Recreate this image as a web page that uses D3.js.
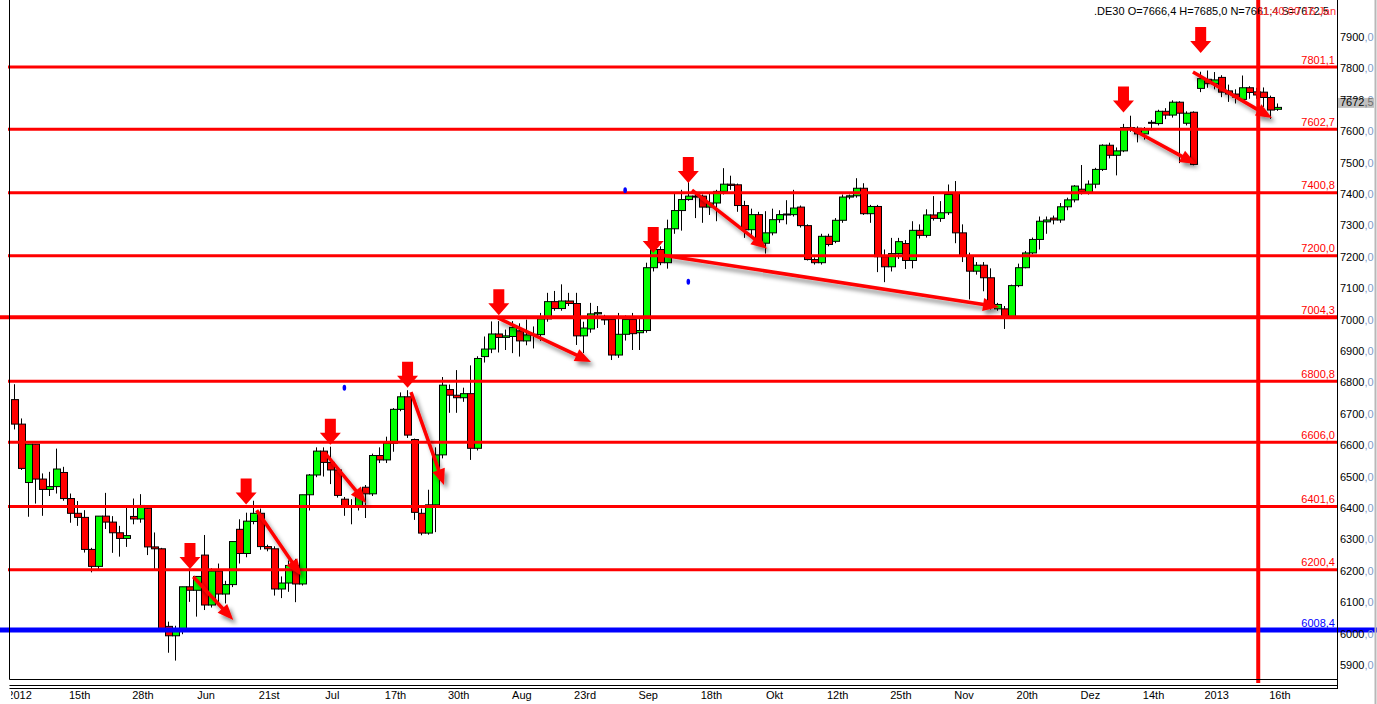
<!DOCTYPE html>
<html>
<head>
<meta charset="utf-8">
<script src="https://cdn.jsdelivr.net/npm/d3@7"></script>
<style>
  html, body { margin: 0; padding: 0; background: #fff; }
  svg { display: block; font-family: "Liberation Sans", Arial, sans-serif; }
</style>
</head>
<body>
<div id="chart"></div>
<script>
// .DE30 daily candles, May 2012 - 16 Jan 2013
const opens = [
  6742, 6664, 6478, 6600, 6489, 6456, 6465, 6510, 6427, 6380,
  6367, 6265, 6211, 6371, 6352, 6318, 6300, 6370, 6362, 6396,
  6273, 6267, 6020, 5990, 6013, 6146, 6135, 6247, 6088, 6196,
  6123, 6153, 6329, 6252, 6354, 6380, 6274, 6267, 6139, 6158,
  6214, 6155, 6439, 6502, 6578, 6542, 6518, 6425, 6402, 6405,
  6463, 6442, 6564, 6550, 6603, 6711, 6751, 6615, 6380, 6317,
  6407, 6566, 6774, 6756, 6748, 6761, 6587, 6879, 6903, 6951,
  6940, 6943, 6961, 6929, 6948, 6949, 6999, 7054, 7032, 7056,
  7048, 6945, 6967, 7015, 6999, 6997, 6884, 6950, 6997, 6955,
  6962, 7162, 7220, 7178, 7286, 7344, 7379, 7390, 7390, 7355,
  7368, 7405, 7428, 7426, 7360, 7283, 7331, 7240, 7273, 7315,
  7331, 7331, 7355, 7296, 7188, 7178, 7262, 7246, 7313, 7387,
  7391, 7415, 7334, 7357, 7197, 7165, 7207, 7239, 7185, 7281,
  7265, 7330, 7319, 7337, 7400, 7273, 7199, 7151, 7170, 7130,
  7031, 7031, 7007, 7105, 7162, 7209, 7252, 7308, 7320, 7314,
  7356, 7378, 7412, 7402, 7428, 7475, 7552, 7520, 7534, 7608,
  7606, 7588, 7625, 7621, 7660, 7648, 7689, 7622, 7657, 7733,
  7762, 7748, 7768, 7725, 7715, 7698, 7735, 7722, 7721, 7704, 7666.4
];
const highs = [
  6791, 6682, 6600, 6600, 6507, 6512, 6586, 6528, 6443, 6419,
  6390, 6270, 6371, 6445, 6371, 6340, 6406, 6427, 6441, 6405,
  6319, 6270, 6035, 6022, 6146, 6204, 6180, 6311, 6205, 6220,
  6165, 6290, 6361, 6382, 6420, 6395, 6280, 6275, 6179, 6230,
  6235, 6439, 6505, 6590, 6590, 6592, 6525, 6432, 6425, 6450,
  6470, 6570, 6590, 6624, 6715, 6765, 6772, 6618, 6395, 6455,
  6590, 6814, 6790, 6836, 6780, 6851, 6880, 6943, 6991, 6992,
  6965, 6992, 6985, 6997, 6975, 7018, 7082, 7088, 7109, 7082,
  7082, 6990, 7050, 7040, 7012, 7000, 7018, 7010, 7018, 7000,
  7178, 7230, 7230, 7315, 7400, 7410, 7437, 7400, 7395, 7400,
  7410, 7479, 7455, 7430, 7375, 7350, 7340, 7342, 7350, 7345,
  7377, 7410, 7360, 7300, 7195, 7270, 7270, 7320, 7395, 7395,
  7447, 7431, 7362, 7362, 7220, 7257, 7257, 7250, 7310, 7300,
  7348, 7390, 7374, 7427, 7438, 7300, 7210, 7180, 7180, 7160,
  7050, 7040, 7108, 7175, 7215, 7258, 7325, 7325, 7328, 7368,
  7385, 7425, 7489, 7440, 7480, 7555, 7560, 7545, 7620, 7646,
  7612, 7610, 7632, 7665, 7670, 7695, 7692, 7660, 7660, 7786,
  7790, 7785, 7775, 7745, 7730, 7774, 7740, 7735, 7736, 7710, 7685
];
const lows = [
  6647, 6518, 6369, 6411, 6372, 6435, 6443, 6420, 6350, 6340,
  6255, 6192, 6202, 6330, 6254, 6242, 6273, 6345, 6350, 6247,
  6202, 6005, 5936, 5911, 5995, 6098, 6051, 6072, 6080, 6093,
  6093, 6145, 6220, 6240, 6345, 6264, 6259, 6118, 6110, 6130,
  6097, 6150, 6389, 6495, 6497, 6473, 6430, 6372, 6345, 6389,
  6365, 6435, 6540, 6540, 6576, 6705, 6620, 6359, 6310, 6312,
  6320, 6555, 6700, 6700, 6735, 6550, 6580, 6860, 6890, 6892,
  6900, 6890, 6879, 6915, 6905, 6929, 6990, 7025, 7025, 7040,
  6916, 6890, 6955, 6970, 6980, 6868, 6875, 6930, 6900, 6900,
  6955, 7150, 7170, 7159, 7270, 7280, 7375, 7320, 7305, 7330,
  7310, 7395, 7410, 7340, 7257, 7262, 7231, 7207, 7265, 7305,
  7300, 7325, 7290, 7185, 7172, 7172, 7230, 7240, 7305, 7380,
  7385, 7330, 7305, 7148, 7116, 7150, 7190, 7158, 7160, 7255,
  7258, 7312, 7308, 7330, 7240, 7180, 7061, 7140, 7087, 7029,
  7025, 6967, 7000, 7100, 7160, 7205, 7220, 7270, 7300, 7305,
  7345, 7370, 7395, 7395, 7415, 7470, 7510, 7456, 7530, 7595,
  7561, 7570, 7600, 7615, 7635, 7640, 7495, 7615, 7488, 7721,
  7735, 7730, 7705, 7690, 7685, 7690, 7700, 7700, 7674, 7636, 7661.4
];
const closes = [
  6664, 6523, 6600, 6489, 6456, 6465, 6521, 6427, 6380, 6367,
  6265, 6211, 6371, 6352, 6318, 6300, 6309, 6362, 6405, 6273,
  6267, 6013, 5990, 6013, 6146, 6135, 6179, 6088, 6196, 6123,
  6153, 6290, 6252, 6355, 6380, 6274, 6267, 6139, 6158, 6214,
  6155, 6439, 6502, 6578, 6542, 6518, 6437, 6402, 6400, 6444,
  6442, 6564, 6550, 6603, 6711, 6751, 6629, 6383, 6317, 6407,
  6566, 6788, 6756, 6748, 6761, 6587, 6873, 6903, 6951, 6940,
  6945, 6972, 6929, 6948, 6950, 6999, 7054, 7032, 7056, 7048,
  6945, 6970, 7015, 7019, 6997, 6884, 6950, 6997, 6952, 6962,
  7162, 7220, 7178, 7286, 7344, 7379, 7390, 7388, 7355, 7368,
  7405, 7428, 7424, 7360, 7283, 7331, 7240, 7273, 7315, 7331,
  7333, 7352, 7296, 7188, 7178, 7262, 7236, 7313, 7387, 7391,
  7415, 7334, 7357, 7197, 7165, 7207, 7245, 7185, 7281, 7265,
  7330, 7319, 7337, 7395, 7273, 7199, 7151, 7170, 7130, 7041,
  7045, 7007, 7105, 7162, 7209, 7252, 7310, 7314, 7314, 7356,
  7378, 7422, 7404, 7428, 7475, 7552, 7520, 7534, 7608, 7603,
  7588, 7602, 7623, 7660, 7648, 7689, 7654, 7654, 7491, 7764,
  7748, 7760, 7721, 7715, 7705, 7735, 7720, 7712, 7704, 7664, 7672.5
];

// x axis labels every 9th candle
const tickIndex = [0, 9, 18, 27, 36, 45, 54, 63, 72, 81, 90, 99, 108, 117, 126, 135, 144, 153, 162, 171, 180];
const tickText = ['2012', '15th', '28th', 'Jun', '21st', 'Jul', '17th', '30th', 'Aug', '23rd', 'Sep',
                  '18th', 'Okt', '12th', '25th', 'Nov', '20th', 'Dez', '14th', '2013', '16th'];

// horizontal levels
const levels = [7801.1, 7602.7, 7400.8, 7200.0, 7004.3, 6800.8, 6606.0, 6401.6, 6200.4];
const supportLevel = 6008.4;

// down arrows: candle index, price at the tip
const downArrows = [[25, 6203], [33, 6408], [45, 6598], [56, 6780], [69, 7011],
                    [91, 7209], [96, 7432], [158, 7656], [169, 7846]];

// trend arrows: [index1, price1, index2, price2]
const trendArrows = [
  [25.47, 6178, 31.17, 6040], [34.5, 6390, 40.8, 6183], [44.24, 6572, 50.08, 6413],
  [56.49, 6766, 61.19, 6470], [68.88, 7002, 82.13, 6862], [92.39, 7202, 140.26, 7037],
  [96.52, 7409, 107.21, 7222], [158.92, 7607, 168.33, 7492], [167.9, 7785, 179.16, 7639]
];

// small blue markers: index, price
const markers = [[47, 6780], [87, 7409], [96, 7117]];

const last = { o: 7666.4, h: 7685.0, n: 7661.4, s: 7672.5 };
const cursorIndex = 177.2;

const W = 1377, H = 704;
const fmt = v => d3.format('.1f')(v).replace('.', ',');

const svg = d3.select('#chart').append('svg').attr('width', W).attr('height', H);

const defs = svg.append('defs');
defs.append('filter').attr('id', 'shadow')
  .attr('x', '-30%').attr('y', '-30%').attr('width', '160%').attr('height', '160%')
  .append('feDropShadow')
  .attr('dx', 3).attr('dy', 4).attr('stdDeviation', 2)
  .attr('flood-color', '#000').attr('flood-opacity', 0.45);
defs.append('clipPath').attr('id', 'plotclip')
  .append('rect').attr('x', 9).attr('y', 0).attr('width', 1328).attr('height', 700);

const x = d3.scaleBand().domain(d3.range(closes.length)).range([11, 1281.4]).padding(0);
const y = d3.scaleLinear().domain([5900, 7900]).range([664.05, 35.94]);
const cx = i => x(0) + (i + 0.5) * x.step();

// candles
const candles = svg.append('g');
const idx = d3.range(closes.length);
candles.selectAll('line.wick')
  .data(idx)
  .enter()
  .append('line')
  .attr('class', 'wick')
  .attr('x1', i => Math.floor(cx(i)) + 0.5)
  .attr('x2', i => Math.floor(cx(i)) + 0.5)
  .attr('y1', i => y(highs[i]))
  .attr('y2', i => y(lows[i]))
  .attr('stroke', '#000');
candles.selectAll('rect.body')
  .data(idx)
  .enter()
  .append('rect')
  .attr('class', 'body')
  .attr('x', i => Math.round(x(i)) + 0.5)
  .attr('width', i => Math.round(x(i) + x.step()) - Math.round(x(i)))
  .attr('y', i => y(Math.max(opens[i], closes[i])))
  .attr('height', i => Math.max(1, Math.abs(y(opens[i]) - y(closes[i]))))
  .attr('fill', i => closes[i] >= opens[i] ? '#00ff00' : '#ff0000')
  .attr('stroke', '#000');

// level lines
const lv = svg.append('g');
lv.selectAll('line')
  .data(levels)
  .enter()
  .append('line')
  .attr('x1', d => d === 7004.3 ? 0 : 8).attr('x2', 1337)
  .attr('y1', d => y(d)).attr('y2', d => y(d))
  .attr('stroke', '#ff0000')
  .attr('stroke-width', d => d === 7004.3 ? 4 : 3);
lv.append('line')
  .attr('x1', 0).attr('x2', W)
  .attr('y1', y(supportLevel)).attr('y2', y(supportLevel))
  .attr('stroke', '#0000ff').attr('stroke-width', 5);
lv.selectAll('text')
  .data(levels.concat([supportLevel]))
  .enter()
  .append('text')
  .attr('x', 1335)
  .attr('y', d => y(d) - 3.5)
  .attr('text-anchor', 'end')
  .attr('font-size', 11)
  .attr('fill', d => d === supportLevel ? '#0000ff' : '#ff0000')
  .text(fmt);

// blue markers
svg.append('g').selectAll('ellipse')
  .data(markers)
  .enter()
  .append('ellipse')
  .attr('cx', d => cx(d[0]))
  .attr('cy', d => y(d[1]))
  .attr('rx', 1.8).attr('ry', 3)
  .attr('fill', '#0000ff');

// trend arrows with shadow
const ta = svg.append('g').attr('filter', 'url(#shadow)');
trendArrows.forEach(a => {
  const x1 = cx(a[0]), y1 = y(a[1]), x2 = cx(a[2]), y2 = y(a[3]);
  const ang = Math.atan2(y2 - y1, x2 - x1);
  const L = 16, hw = 6.5;
  const bx = x2 - L * Math.cos(ang), by = y2 - L * Math.sin(ang);
  const nx = -Math.sin(ang), ny = Math.cos(ang);
  ta.append('line')
    .attr('x1', x1).attr('y1', y1).attr('x2', bx + 2 * Math.cos(ang)).attr('y2', by + 2 * Math.sin(ang))
    .attr('stroke', '#ff0000').attr('stroke-width', 3.5);
  ta.append('path')
    .attr('d', `M${x2},${y2}L${bx + hw * nx},${by + hw * ny}L${bx - hw * nx},${by - hw * ny}Z`)
    .attr('fill', '#ff0000');
});

// block down arrows
svg.append('g').selectAll('path')
  .data(downArrows)
  .enter()
  .append('path')
  .attr('d', d => {
    const tx = cx(d[0]), ty = y(d[1]);
    return `M${tx - 5.5},${ty - 26}H${tx + 5.5}V${ty - 12}H${tx + 10.5}L${tx},${ty}L${tx - 10.5},${ty - 12}H${tx - 5.5}Z`;
  })
  .attr('fill', '#ff0000');

// vertical cursor line
svg.append('line')
  .attr('x1', cx(cursorIndex)).attr('x2', cx(cursorIndex))
  .attr('y1', 0).attr('y2', 683)
  .attr('stroke', '#ff0000').attr('stroke-width', 4);

// frame
const frame = svg.append('g').attr('stroke', '#000').attr('fill', 'none');
frame.append('path').attr('d', 'M9.5,0V679.5H1337.5V0');
frame.append('line').attr('x1', 9.5).attr('x2', 1337.5).attr('y1', 685.5).attr('y2', 685.5);
frame.append('line').attr('x1', 9.5).attr('x2', 1337.5).attr('y1', 688.5).attr('y2', 688.5);
frame.append('line').attr('x1', 1337.5).attr('x2', 1337.5).attr('y1', 679).attr('y2', 689);

// window border on the right
svg.append('line').attr('x1', 1375.5).attr('x2', 1375.5).attr('y1', 0).attr('y2', H)
  .attr('stroke', '#b8b8b8').attr('stroke-width', 2);

// y axis (right)
const yAxis = svg.append('g')
  .attr('transform', 'translate(1338,1)')
  .call(d3.axisRight(y).tickValues(d3.range(5900, 7901, 100)).tickSize(0).tickPadding(2));
yAxis.select('.domain').remove();
yAxis.selectAll('text')
  .attr('font-size', 11).attr('font-family', '"Liberation Sans", Arial, sans-serif')
  .attr('fill', '#000')
  .each(function (d) {
    const t = d3.select(this).text('');
    t.append('tspan').text(d3.format('d')(d));
    t.append('tspan').attr('fill', '#7f9cc8').text(',0');
  });

// last price box
const ly = y(last.s);
svg.append('rect').attr('x', 1338).attr('y', ly - 9.5).attr('width', 36).attr('height', 10).attr('fill', '#c0c0c0');
const lt = svg.append('text').attr('x', 1340).attr('y', ly - 1.5).attr('font-size', 11).attr('fill', '#000');
lt.append('tspan').text(fmt(last.s).split(',')[0]);
lt.append('tspan').attr('fill', '#6f6f6f').text(',' + fmt(last.s).split(',')[1]);

// x axis labels
const xAxis = svg.append('g')
  .attr('transform', 'translate(2,689)')
  .attr('clip-path', 'url(#plotclip)')
  .call(d3.axisBottom(x).tickValues(tickIndex).tickFormat((d, i) => tickText[i]).tickSize(0).tickPadding(2));
xAxis.select('.domain').remove();
xAxis.selectAll('text')
  .attr('font-size', 11).attr('font-family', '"Liberation Sans", Arial, sans-serif').attr('fill', '#000')
  .attr('dx', d => d === 0 ? 3 : 0);

// header
const hd = svg.append('g').attr('clip-path', 'url(#plotclip)');
hd.append('text').attr('x', 1094).attr('y', 15).attr('font-size', 11).attr('fill', '#000')
  .text(`.DE30 O=${fmt(last.o)} H=${fmt(last.h)} N=${fmt(last.n)} S=${fmt(last.s)}`);
hd.append('text').attr('x', 1258).attr('y', 15).attr('font-size', 11).attr('fill', '#ff3030')
  .text('11:40:00 16 Jan 2013');
</script>
</body>
</html>
